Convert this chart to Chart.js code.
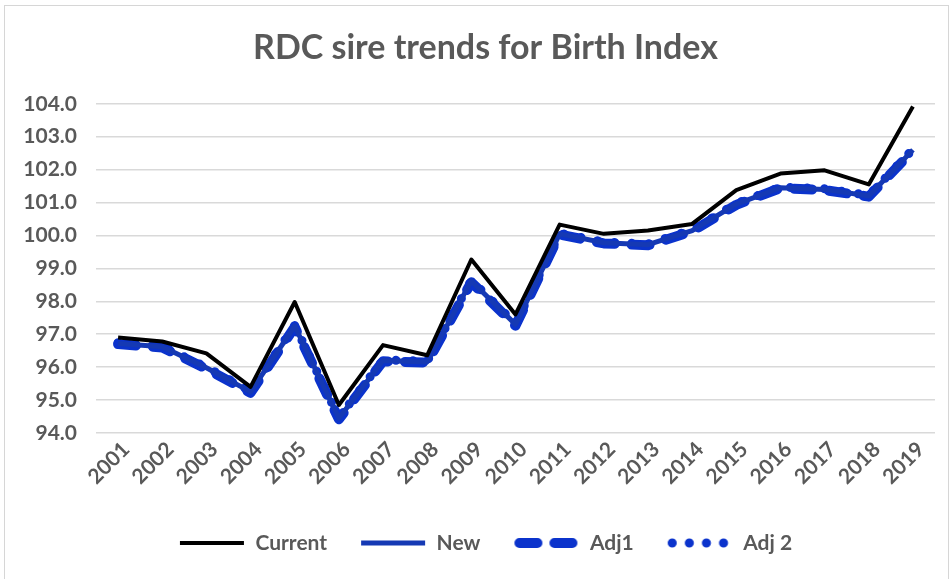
<!DOCTYPE html>
<html>
<head>
<meta charset="utf-8">
<title>RDC sire trends for Birth Index</title>
<script src="https://cdn.jsdelivr.net/npm/chart.js@4.4.1/dist/chart.umd.min.js"></script>
<style>
  html, body { margin: 0; padding: 0; background: #fff; }
  #frame { position: absolute; left: 4px; top: 5px; width: 943px; height: 590px; border: 1px solid #d6d6d6; }
  #wrap { position: absolute; left: 0; top: 0; width: 952px; height: 579px; }
</style>
</head>
<body>
<div id="frame"></div>
<div id="wrap"><canvas id="myChart" width="952" height="579"></canvas></div>
<script>
// data
var years = ["2001", "2002", "2003", "2004", "2005", "2006", "2007", "2008", "2009", "2010",
	"2011", "2012", "2013", "2014", "2015", "2016", "2017", "2018", "2019"];
var current = [96.90, 96.78, 96.42, 95.40, 97.98, 94.85, 96.67, 96.36, 99.27, 97.60,
	100.33, 100.05, 100.15, 100.35, 101.38, 101.88, 101.98, 101.55, 103.92];
var newVals = [96.72, 96.62, 95.98, 95.25, 97.25, 94.45, 96.20, 96.16, 98.62, 97.30,
	100.05, 99.78, 99.72, 100.15, 100.95, 101.45, 101.40, 101.20, 102.60];
var adj1 = [96.70, 96.60, 95.95, 95.22, 97.22, 94.42, 96.18, 96.14, 98.58, 97.26,
	100.03, 99.76, 99.70, 100.13, 100.93, 101.44, 101.38, 101.18, 102.58];
var adj2 = [96.74, 96.63, 96.00, 95.27, 97.27, 94.47, 96.22, 96.18, 98.64, 97.32,
	100.07, 99.80, 99.74, 100.17, 100.97, 101.47, 101.42, 101.22, 102.62];
var yTicks = [94, 95, 96, 97, 98, 99, 100, 101, 102, 103, 104];

var textGrey = '#595959';
var fontFam = 'Lato, "Open Sans", sans-serif';

// little canvas swatch so the legend shows the dash pattern of each line
function makeSwatch(ds) {
	var c = document.createElement('canvas');
	c.width = 66;
	c.height = 14;
	var g = c.getContext('2d');
	g.strokeStyle = ds.borderColor;
	g.lineWidth = ds.borderWidth;
	g.lineCap = ds.borderCapStyle || 'butt';
	g.setLineDash(ds.borderDash || []);
	var inset = g.lineCap == 'round' ? ds.borderWidth / 2 : 0;
	g.beginPath();
	g.moveTo(inset + 1, 7);
	g.lineTo(65 - inset, 7);
	g.stroke();
	return c;
}

var ctx = document.getElementById("myChart").getContext('2d');
var myChart = new Chart(ctx, {
	type: 'line',
	data: {
		labels: years,
		datasets: [{
			label: 'Current',
			data: current,
			borderColor: '#000000',
			backgroundColor: '#000000',
			borderWidth: 4,
			borderJoinStyle: 'round',
			pointRadius: 0,
			tension: 0
		}, {
			label: 'New',
			data: newVals,
			borderColor: '#1539b4',
			backgroundColor: '#1539b4',
			borderWidth: 5,
			borderJoinStyle: 'round',
			pointRadius: 0,
			tension: 0
		}, {
			label: 'Adj1',
			data: adj1,
			borderColor: '#0b33cc',
			backgroundColor: '#0b33cc',
			borderWidth: 10,
			borderDash: [18, 17],
			borderCapStyle: 'round',
			borderJoinStyle: 'round',
			pointRadius: 0,
			tension: 0
		}, {
			label: 'Adj 2',
			data: adj2,
			borderColor: '#0b33cc',
			backgroundColor: '#0b33cc',
			borderWidth: 9,
			borderDash: [0.1, 17],
			borderCapStyle: 'round',
			borderJoinStyle: 'round',
			pointRadius: 0,
			tension: 0
		}]
	},
	options: {
		responsive: false,
		animation: false,
		layout: {
			padding: { left: 0, right: -19, top: 0, bottom: 15.5 }
		},
		plugins: {
			title: {
				display: true,
				text: 'RDC sire trends for Birth Index',
				color: textGrey,
				font: { family: fontFam, size: 34, weight: 'bold', lineHeight: 1.2 },
				padding: { top: 28, bottom: 35 }
			},
			legend: {
				position: 'bottom',
				labels: {
					usePointStyle: true,
					pointStyleWidth: 66,
					padding: 33,
					color: textGrey,
					font: { family: fontFam, size: 21, weight: 'bold' },
					generateLabels: function (chart) {
						var items = Chart.defaults.plugins.legend.labels.generateLabels(chart);
						items.forEach(function (it) {
							it.pointStyle = makeSwatch(chart.data.datasets[it.datasetIndex]);
						});
						return items;
					}
				}
			},
			tooltip: { enabled: false }
		},
		scales: {
			x: {
				offset: true,
				grid: { display: false, drawTicks: false },
				border: { display: false },
				ticks: {
					minRotation: 45,
					maxRotation: 45,
					padding: 4,
					labelOffset: 8,
					color: textGrey,
					font: { family: fontFam, size: 21, weight: 'bold' }
				},
				afterFit: function (scale) {
					scale.height = 66.5;
				}
			},
			y: {
				min: 94,
				max: 104,
				afterBuildTicks: function (scale) {
					scale.ticks = yTicks.map(function (v) { return { value: v }; });
				},
				grid: { color: '#d9d9d9', lineWidth: 1.5, drawTicks: false },
				border: { display: false },
				ticks: {
					padding: 19,
					color: textGrey,
					font: { family: fontFam, size: 21, weight: 'bold' },
					callback: function (v) { return Number(v).toFixed(1); }
				},
				afterFit: function (scale) {
					scale.width = 96;
				}
			},
			// empty right-hand strip, keeps the plot where the reference has it
			yRight: {
				position: 'right',
				grid: { display: false, drawTicks: false },
				border: { display: false },
				ticks: { display: false },
				afterFit: function (scale) {
					scale.width = 36;
				}
			}
		}
	}
});
</script>
</body>
</html>
